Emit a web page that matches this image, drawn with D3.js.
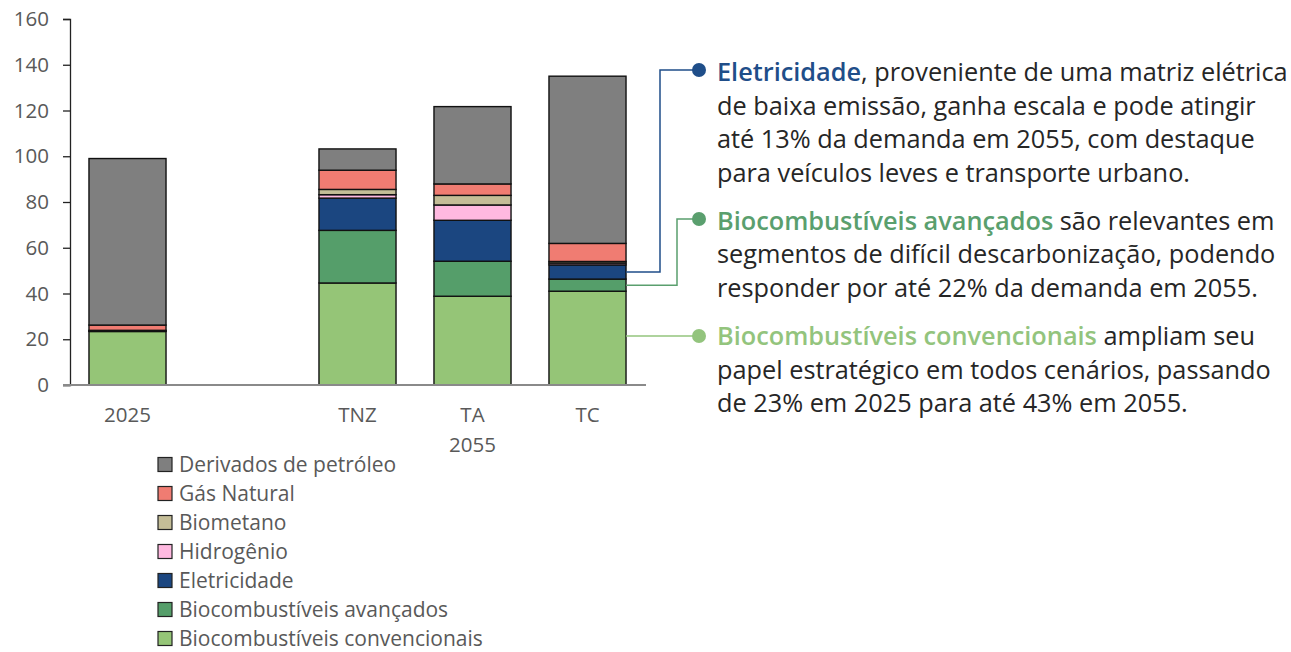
<!DOCTYPE html>
<html>
<head>
<meta charset="utf-8">
<script src="https://cdn.jsdelivr.net/npm/d3@7"></script>
<style>
  body { margin: 0; background: #fff; }
  svg { font-family: "Open Sans", "Noto Sans", sans-serif; }
</style>
</head>
<body>
<script>
// slots on the x axis (the blank one is the gap between 2025 and the 2055 scenarios)
var slots = ["2025", "gap", "TNZ", "TA", "TC"];
var categories = ["2025", "TNZ", "TA", "TC"];
var groupLabel = "2055";

// series, bottom to top of each stack
var seriesNames = ["Biocombustíveis convencionais", "Biocombustíveis avançados", "Eletricidade",
                   "Hidrogênio", "Biometano", "Gás Natural", "Derivados de petróleo"];
var biocombConv = [23.4, 44.6, 38.8, 41.0];
var biocombAvan = [0.2, 23.0, 15.3, 5.3];
var eletricidade = [0.3, 14.1, 17.9, 6.2];
var hidrogenio = [0, 1.5, 6.7, 0.8];
var biometano = [0, 2.3, 4.2, 0.7];
var gasNatural = [2.3, 8.4, 5.0, 7.9];
var derivados = [72.8, 9.3, 33.8, 73.1];

var yTicks = [0, 20, 40, 60, 80, 100, 120, 140, 160];

var colors = ["#95c577", "#559e6a", "#1b4680", "#ffb9e0", "#c4bd97", "#f07c72", "#7f7f7f"];

var allSeries = [biocombConv, biocombAvan, eletricidade, hidrogenio, biometano, gasNatural, derivados];

// build rows for d3.stack
var rows = categories.map(function(c, i) {
  var r = {cat: c};
  seriesNames.forEach(function(s, k) { r[s] = allSeries[k][i]; });
  return r;
});

var W = 1291, H = 652;
var svg = d3.select("body").append("svg")
  .attr("width", W)
  .attr("height", H);

var x = d3.scaleBand()
  .domain(slots)
  .range([70, 645])
  .paddingInner(0.33)
  .paddingOuter(0.165);

var y = d3.scaleLinear()
  .domain([0, 160])
  .range([385, 19]);

var stack = d3.stack().keys(seriesNames);
var stacked = stack(rows);

// bars
var layer = svg.selectAll(".layer")
  .data(stacked)
  .enter().append("g")
  .attr("class", "layer")
  .attr("fill", function(d, i) { return colors[i]; });

layer.selectAll("rect")
  .data(function(d) { return d.filter(function(p) { return p[1] - p[0] > 0; }); })
  .enter().append("rect")
  .attr("x", function(d) { return x(d.data.cat); })
  .attr("width", x.bandwidth())
  .attr("y", function(d) { return y(d[1]); })
  .attr("height", function(d) { return y(d[0]) - y(d[1]); })
  .attr("stroke", "#111")
  .attr("stroke-width", 1.4);

// y axis
var yAxis = svg.append("g")
  .attr("transform", "translate(70,0)")
  .call(d3.axisLeft(y).tickValues(yTicks).tickSize(7).tickPadding(14));
yAxis.select(".domain").attr("stroke", "#222").attr("stroke-width", 1.3);
yAxis.selectAll(".tick line").attr("stroke", "#222").attr("stroke-width", 1.3);
yAxis.selectAll(".tick text")
  .attr("fill", "#595959")
  .attr("font-size", "20.5px")
  .attr("font-family", "Open Sans, sans-serif");

// x axis baseline
svg.append("line")
  .attr("x1", 63).attr("x2", 646)
  .attr("y1", y(0)).attr("y2", y(0))
  .attr("stroke", "#8a8a8a")
  .attr("stroke-width", 2);

// x labels
svg.selectAll(".xlab")
  .data(categories)
  .enter().append("text")
  .attr("class", "xlab")
  .attr("x", function(d) { return x(d) + x.bandwidth() / 2; })
  .attr("y", 422)
  .attr("text-anchor", "middle")
  .attr("fill", "#595959")
  .attr("font-size", "20.5px")
  .text(function(d) { return d; });

svg.append("text")
  .attr("x", x("TA") + x.bandwidth() / 2)
  .attr("y", 452)
  .attr("text-anchor", "middle")
  .attr("fill", "#595959")
  .attr("font-size", "20.5px")
  .text(groupLabel);

// legend (top row = top of stack)
var legendNames = seriesNames.slice().reverse();
var legendColors = colors.slice().reverse();
var leg = svg.selectAll(".leg")
  .data(legendNames)
  .enter().append("g")
  .attr("class", "leg")
  .attr("transform", function(d, i) { return "translate(158," + (464.5 + i * 29) + ")"; });

leg.append("rect")
  .attr("x", 0).attr("y", -7)
  .attr("width", 14).attr("height", 14)
  .attr("fill", function(d, i) { return legendColors[i]; })
  .attr("stroke", "#222")
  .attr("stroke-width", 1.2);

leg.append("text")
  .attr("x", 21)
  .attr("y", 7)
  .attr("fill", "#595959")
  .attr("font-size", "21px")
  .text(function(d) { return d; });

// annotations on the right
var notes = [
  {key: "Eletricidade", color: "#1f4e89", dotY: 70, kneeX: 660,
   lines: [[["Eletricidade", true], [", proveniente de uma matriz elétrica", false]],
           [["de baixa emissão, ganha escala e pode atingir", false]],
           [["até 13% da demanda em 2055, com destaque", false]],
           [["para veículos leves e transporte urbano.", false]]], base: 81},
  {key: "Biocombustíveis avançados", color: "#5a9f6e", dotY: 219, kneeX: 677,
   lines: [[["Biocombustíveis avançados", true], [" são relevantes em", false]],
           [["segmentos de difícil descarbonização, podendo", false]],
           [["responder por até 22% da demanda em 2055.", false]]], base: 229.5},
  {key: "Biocombustíveis convencionais", color: "#93c47d", dotY: 336, kneeX: null,
   lines: [[["Biocombustíveis convencionais", true], [" ampliam seu", false]],
           [["papel estratégico em todos cenários, passando", false]],
           [["de 23% em 2025 para até 43% em 2055.", false]]], base: 345}
];

var tcIndex = categories.indexOf("TC");
var barRight = x("TC") + x.bandwidth();
var dotX = 699;

notes.forEach(function(n) {
  var s = stacked[seriesNames.indexOf(n.key)][tcIndex];
  var segY = n.kneeX === null ? n.dotY : y((s[0] + s[1]) / 2);
  var path = n.kneeX === null
    ? [[barRight, segY], [dotX, n.dotY]]
    : [[barRight, segY], [n.kneeX, segY], [n.kneeX, n.dotY], [dotX, n.dotY]];
  svg.append("path")
    .attr("d", d3.line()(path))
    .attr("fill", "none")
    .attr("stroke", n.color)
    .attr("stroke-width", 1.5);
  svg.append("circle")
    .attr("cx", dotX).attr("cy", n.dotY).attr("r", 7)
    .attr("fill", n.color);

  var t = svg.append("text")
    .attr("x", 717)
    .attr("y", n.base)
    .attr("font-size", "25.3px")
    .attr("fill", "#262626");
  n.lines.forEach(function(line, li) {
    line.forEach(function(part, pi) {
      var ts = t.append("tspan").text(part[0]);
      if (pi === 0) ts.attr("x", 717).attr("y", n.base + li * 33.5);
      if (part[1]) ts.attr("font-weight", "600").attr("fill", n.color);
    });
  });
});
</script>
</body>
</html>
